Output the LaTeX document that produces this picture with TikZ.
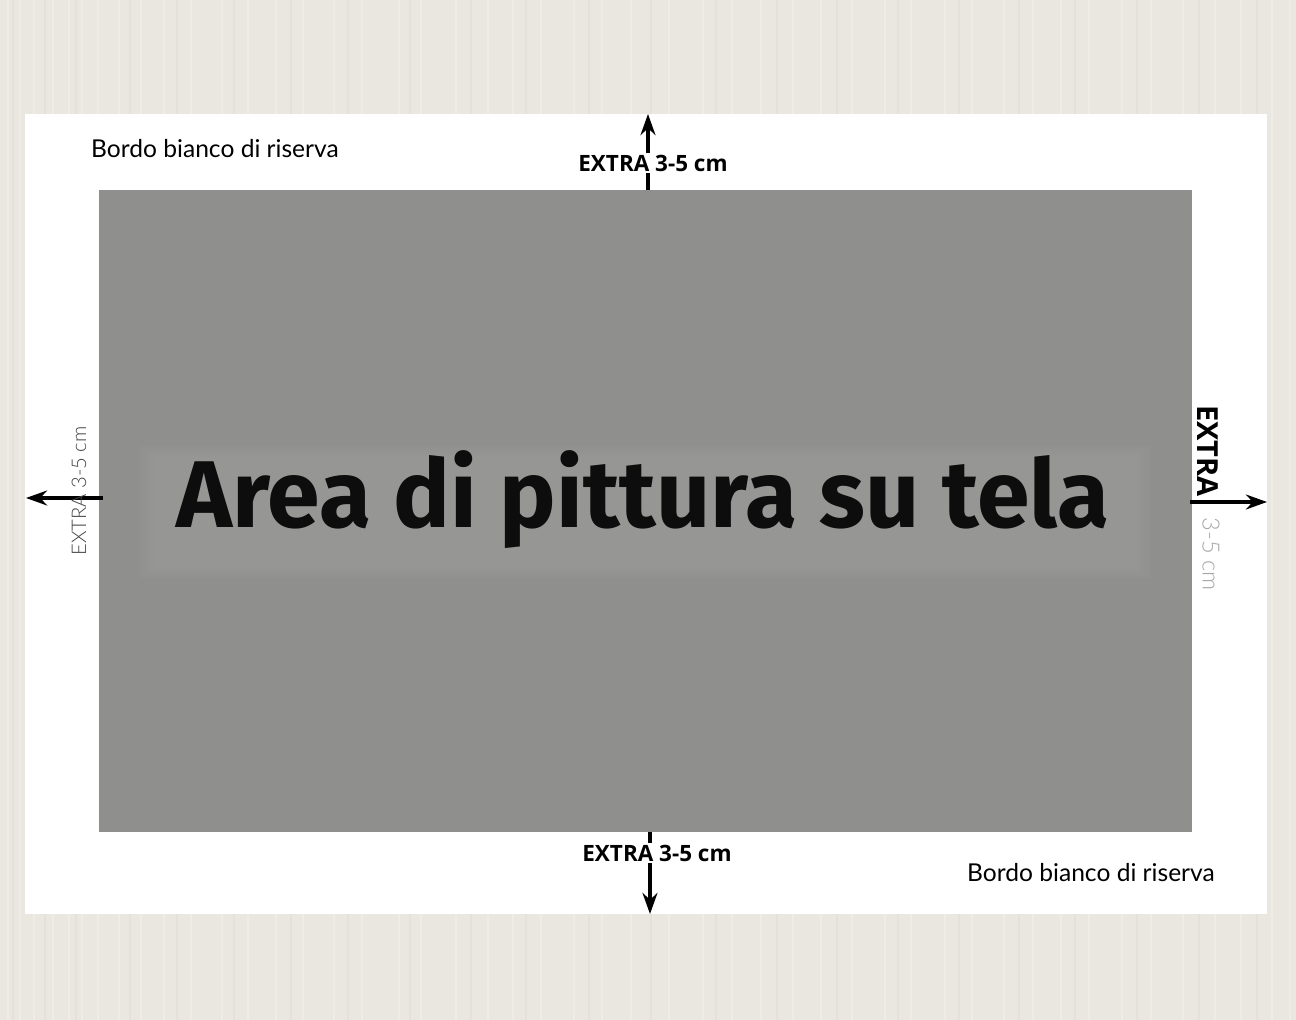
\documentclass[tikz,border=0pt]{standalone}
\usepackage{fontspec}
\setmainfont{Open Sans}
\newfontfamily\titlefont{Fira Sans}
\newfontfamily\labelfont{Lato}
\newfontfamily\lightfont{Lato Light}
\usetikzlibrary{arrows.meta}
\definecolor{beige}{HTML}{EAE6E0}
\definecolor{beigeL}{HTML}{EFECE7}
\definecolor{beigeD}{HTML}{E5E0D9}
\definecolor{canvasgrey}{HTML}{8F8F8E}
\definecolor{bandgrey}{HTML}{9A9A98}
\definecolor{lightlbl}{HTML}{454545}
\definecolor{paletxt}{HTML}{A8A8A8}
\tikzset{
  dimarrow/.style={line width=1.8pt, -{Stealth[length=12pt,width=8.5pt]}},
  boldlbl/.style={font=\fontsize{12.8}{14}\selectfont\bfseries, text=black, inner sep=1pt},
  bordo/.style={font=\labelfont\fontsize{14}{16}\selectfont, text=black, inner sep=0pt},
}
\begin{document}
\begin{tikzpicture}[x=0.02cm,y=-0.02cm]
\useasboundingbox (0,0) rectangle (1296,1020);
% background
\fill[beige] (0,0) rectangle (1296,1020);
\foreach \xx in {7,19,33,52,68,81,97,118,140,163,190,221,247,275,302,333,361,398,420,455,487,512,540,573,601,630,668,702,731,760,792,820,851,884,910,944,971,1003,1032,1060,1088,1121,1150,1182,1214,1240,1271,1289}
  \fill[beigeL] (\xx,0) rectangle (\xx+2,1020);
\foreach \xx in {12,44,75,129,176,233,290,347,409,470,525,588,650,715,776,836,897,958,1018,1074,1136,1198,1256}
  \fill[beigeD] (\xx,0) rectangle (\xx+1.5,1020);
% white sheet
\fill[white] (25,114) rectangle (1267,914);
% canvas
\fill[canvasgrey] (99,190) rectangle (1192,832);
\foreach \i in {0,...,7}
  \fill[bandgrey, opacity=0.22] (140+\i*3,446+\i*2) rectangle (1150-\i*3,578-\i*2);
\node[font=\titlefont\bfseries\fontsize{54}{58}\selectfont, text=black!95, inner sep=0pt] (title) at (643,500) {Area di pittura su tela};
% top
\coordinate (ttop) at (648,114);
\coordinate (tbot) at (648,190);
\draw[dimarrow] (tbot) -- (ttop);
\node[boldlbl, fill=white] (tlbl) at (653,163) {EXTRA 3-5 cm};
% bottom
\coordinate (btop) at (650,832);
\coordinate (bbot) at (650,914);
\draw[dimarrow] (btop) -- (bbot);
\node[boldlbl, fill=white] (blbl) at (657,853) {EXTRA 3-5 cm};
% left
\coordinate (lr) at (103,498);
\coordinate (ll) at (26,498);
\draw[dimarrow] (lr) -- (ll);
\node[rotate=90, font=\lightfont\fontsize{11.5}{13}\selectfont, text=lightlbl, inner sep=0pt] (llbl) at (79,491) {EXTRA 3-5 cm};
% right
\coordinate (rl) at (1190,502);
\coordinate (rr) at (1267,502);
\draw[dimarrow] (rl) -- (rr);
\node[rotate=-90, boldlbl, font=\fontsize{16.5}{18}\selectfont\bfseries, inner sep=0pt] (rlbl1) at (1208,451) {EXTRA};
\node[rotate=-90, font=\lightfont\fontsize{13.5}{15}\selectfont, text=paletxt, inner sep=0pt] (rlbl2) at (1211,554) {3-5 cm};
% bordo labels
\node[bordo] (bordo1) at (215,149) {Bordo bianco di riserva};
\node[bordo] (bordo2) at (1091,873) {Bordo bianco di riserva};
\end{tikzpicture}
\end{document}
